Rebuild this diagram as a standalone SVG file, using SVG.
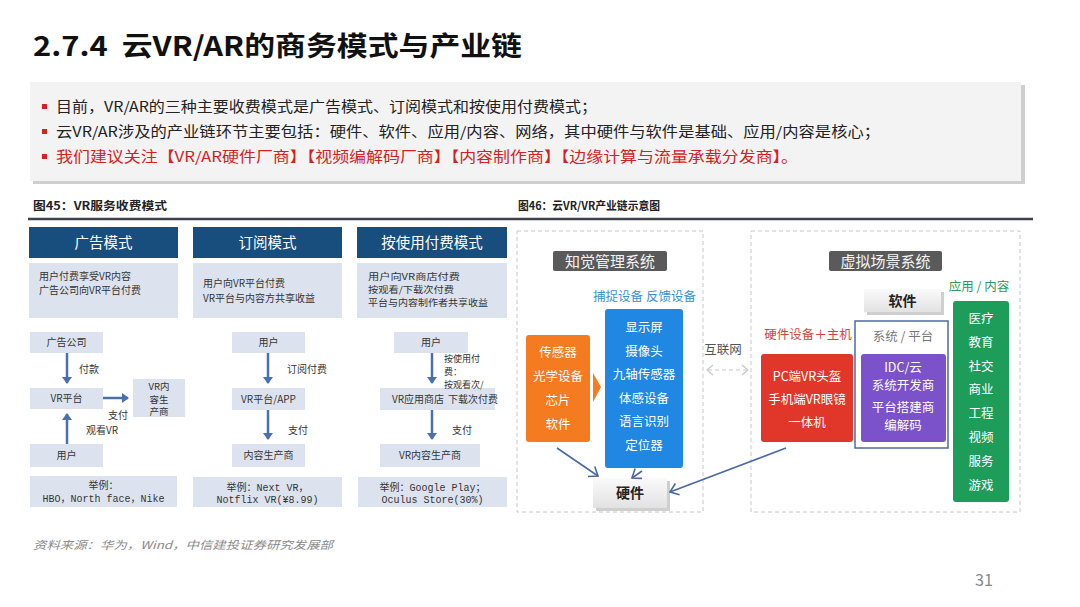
<svg xmlns="http://www.w3.org/2000/svg" width="1080" height="607" viewBox="0 0 1080 607">
<defs>
<style>
text{font-family:"Noto Sans CJK SC","Liberation Sans",sans-serif;}
.title{font-size:27px;font-weight:bold;fill:#111;}
.bul{font-size:14.5px;fill:#222;}
.bulr{font-size:14.5px;fill:#d42222;}
.cap{font-size:11.5px;fill:#222;font-weight:bold;}
.hdr{fill:#184e7e;}
.hdrt{font-size:14.5px;fill:#fff;text-anchor:middle;}
.lb{fill:#dde3ee;}
.lt{font-size:10px;fill:#333;}
.lt9{font-size:9px;fill:#333;}
.ltc{font-size:10px;fill:#333;text-anchor:middle;}
.sm{font-size:9.5px;fill:#333;text-anchor:middle;}
.ex{font-size:10px;fill:#333;text-anchor:middle;font-family:"Liberation Mono","Noto Sans CJK SC",monospace;}
.fl{stroke:#4a70b0;stroke-width:2.5;fill:none;}
.w{fill:#fff;font-size:12.5px;text-anchor:middle;}
.sys{fill:#5a5a5a;}
.syst{fill:#f4f4f4;font-size:15px;text-anchor:middle;}
.dash{fill:none;stroke:#c8c8c8;stroke-width:1;stroke-dasharray:4 3;}
.hw{font-size:14px;font-weight:bold;fill:#222;text-anchor:middle;font-family:"Noto Sans CJK SC",serif;}
.ln{stroke:#4a68a8;stroke-width:1.6;fill:none;}
</style>
<marker id="ah" markerWidth="10" markerHeight="10" refX="6" refY="5" orient="auto" markerUnits="userSpaceOnUse">
<path d="M0,0 L7,5 L0,10 Z" fill="#4a70b0"/>
</marker>
<marker id="va" markerWidth="14" markerHeight="14" refX="10" refY="7" orient="auto" markerUnits="userSpaceOnUse">
<path d="M2,1 L10,7 L2,13" fill="none" stroke="#4a68a8" stroke-width="1.6"/>
</marker>
<linearGradient id="gb" x1="0" y1="0" x2="0" y2="1">
<stop offset="0" stop-color="#fafafa"/><stop offset="1" stop-color="#e2e2e2"/>
</linearGradient>
</defs>
<rect width="1080" height="607" fill="#fff"/>

<text class="title" x="33" y="56" xml:space="preserve" textLength="489" lengthAdjust="spacingAndGlyphs">2.7.4  云VR/AR的商务模式与产业链</text>

<g id="bullets">
<rect x="33" y="85" width="992" height="99" fill="#cfcfcf"/>
<rect x="30" y="82" width="991" height="99" fill="#f3f3f3"/>
<rect x="42" y="104" width="5" height="5" fill="#d42222"/>
<rect x="42" y="129" width="5" height="5" fill="#d42222"/>
<rect x="42" y="154" width="5" height="5" fill="#d42222"/>
<text class="bul" x="56" y="112" textLength="541" lengthAdjust="spacingAndGlyphs">目前，VR/AR的三种主要收费模式是广告模式、订阅模式和按使用付费模式；</text>
<text class="bul" x="56" y="137" textLength="824" lengthAdjust="spacingAndGlyphs">云VR/AR涉及的产业链环节主要包括：硬件、软件、应用/内容、网络，其中硬件与软件是基础、应用/内容是核心；</text>
<text class="bulr" x="56" y="162" textLength="742" lengthAdjust="spacingAndGlyphs">我们建议关注【VR/AR硬件厂商】【视频编解码厂商】【内容制作商】【边缘计算与流量承载分发商】。</text>
</g>

<text class="cap" x="33" y="210" textLength="134" lengthAdjust="spacingAndGlyphs">图45：VR服务收费模式</text>
<text class="cap" x="518" y="210" textLength="142" lengthAdjust="spacingAndGlyphs">图46：云VR/VR产业链示意图</text>
<line x1="28" y1="219" x2="1033" y2="219" stroke="#3c414c" stroke-width="2.5"/>

<!-- Column 1 -->
<g id="col1-header"><rect class="hdr" x="29" y="227" width="149" height="31"/><text class="hdrt" x="103.5" y="248">广告模式</text></g>
<g id="col1-desc"><rect class="lb" x="29" y="263" width="149" height="55"/>
<text class="lt" x="39" y="280">用户付费享受VR内容</text><text class="lt" x="39" y="294">广告公司向VR平台付费</text></g>
<g id="c1-ad"><rect class="lb" x="30" y="332" width="73" height="21"/><text class="ltc" x="66.5" y="346">广告公司</text></g>
<g id="c1-plat"><rect class="lb" x="30" y="388" width="73" height="21"/><text class="ltc" x="66.5" y="402">VR平台</text></g>
<g id="c1-prod"><rect class="lb" x="133" y="379" width="52" height="38"/><text class="sm" x="159" y="390">VR内</text><text class="sm" x="159" y="402.5">容生</text><text class="sm" x="159" y="415">产商</text></g>
<g id="c1-user"><rect class="lb" x="30" y="444" width="73" height="23"/><text class="ltc" x="66.5" y="459">用户</text></g>
<g id="c1-ex"><rect class="lb" x="30" y="476" width="147" height="31"/><text class="ex" x="103.5" y="489">举例：</text><text class="ex" x="103.5" y="502">HBO，North face，Nike</text></g>

<!-- Column 2 -->
<g id="col2-header"><rect class="hdr" x="193" y="227" width="149" height="31"/><text class="hdrt" x="267.5" y="248">订阅模式</text></g>
<g id="col2-desc"><rect class="lb" x="193" y="263" width="149" height="55"/>
<text class="lt" x="203" y="287">用户向VR平台付费</text><text class="lt" x="203" y="302">VR平台与内容方共享收益</text></g>
<g id="c2-user"><rect class="lb" x="232" y="332" width="73" height="21"/><text class="ltc" x="268.5" y="346">用户</text></g>
<g id="c2-plat"><rect class="lb" x="232" y="388" width="73" height="22"/><text class="ltc" x="268.5" y="403">VR平台/APP</text></g>
<g id="c2-prod"><rect class="lb" x="232" y="444" width="73" height="23"/><text class="ltc" x="268.5" y="459">内容生产商</text></g>
<g id="c2-ex"><rect class="lb" x="193" y="477" width="149" height="30"/><text class="ex" x="267.5" y="491">举例：Next VR，</text><text class="ex" x="267.5" y="503">Notflix VR(¥8.99)</text></g>

<!-- Column 3 -->
<g id="col3-header"><rect class="hdr" x="357" y="227" width="150" height="31"/><text class="hdrt" x="432" y="248">按使用付费模式</text></g>
<g id="col3-desc"><rect class="lb" x="357" y="263" width="150" height="55"/>
<text class="lt9" x="368" y="280" textLength="92" lengthAdjust="spacingAndGlyphs">用户向VR商店付费</text><text class="lt9" x="368" y="293" textLength="86" lengthAdjust="spacingAndGlyphs">按观看/下载次付费</text><text class="lt9" x="368" y="306" textLength="120" lengthAdjust="spacingAndGlyphs">平台与内容制作者共享收益</text></g>
<g id="c3-user"><rect class="lb" x="394" y="332" width="74" height="21"/><text class="ltc" x="431" y="346">用户</text></g>
<g id="c3-store"><rect class="lb" x="380" y="388" width="115" height="22"/><text class="lt" x="392" y="403">VR应用商店</text></g>
<g id="c3-prod"><rect class="lb" x="380" y="444" width="100" height="23"/><text class="ltc" x="430" y="459">VR内容生产商</text></g>
<g id="c3-ex"><rect class="lb" x="358" y="477" width="149" height="30"/><text class="ex" x="432.5" y="491">举例：Google Play；</text><text class="ex" x="432.5" y="503">Oculus Store(30%)</text></g>

<g id="flow-connectors">
<line class="fl" x1="67" y1="353" x2="67" y2="383" marker-end="url(#ah)"/>
<line class="fl" x1="103" y1="398" x2="128" y2="398" marker-end="url(#ah)"/>
<line class="fl" x1="67" y1="444" x2="67" y2="414" marker-end="url(#ah)"/>
<line class="fl" x1="268" y1="353" x2="268" y2="383" marker-end="url(#ah)"/>
<line class="fl" x1="268" y1="410" x2="268" y2="439" marker-end="url(#ah)"/>
<line class="fl" x1="432" y1="353" x2="432" y2="383" marker-end="url(#ah)"/>
<line class="fl" x1="432" y1="410" x2="432" y2="439" marker-end="url(#ah)"/>
<text class="lt" x="79" y="373">付款</text>
<text class="lt" x="108" y="419">支付</text>
<text class="lt" x="86" y="434">观看VR</text>
<text class="lt" x="287" y="373">订阅付费</text>
<text class="lt" x="288" y="434">支付</text>
<text class="lt9" x="444" y="362">按使用付</text>
<text class="lt9" x="444" y="375">费：</text>
<text class="lt9" x="444" y="388">按观看次/</text>
<text class="lt" x="448" y="403">下载次付费</text>
<text class="lt" x="452" y="434">支付</text>
</g>

<!-- Right diagram -->
<rect class="dash" x="517" y="231" width="186" height="281"/>
<rect class="dash" x="751" y="231" width="269" height="281"/>

<g id="perception-label"><rect class="sys" x="553" y="251" width="114" height="20" rx="2"/><text class="syst" x="610" y="266.5">知觉管理系统</text></g>
<text x="644.5" y="301" font-size="12.5" fill="#3a8fd4" text-anchor="middle">捕捉设备 反馈设备</text>

<g id="orange-box"><rect x="526" y="335" width="64" height="107" rx="3" fill="#f47b20"/>
<text class="w" x="558" y="357">传感器</text><text class="w" x="558" y="381">光学设备</text><text class="w" x="558" y="405">芯片</text><text class="w" x="558" y="429">软件</text></g>
<path d="M593,373 L601,387 L593,402 Z" fill="#f47b20"/>

<g id="blue-box"><rect x="605" y="309" width="78" height="159" rx="3" fill="#2088e2"/>
<text class="w" x="644" y="332">显示屏</text><text class="w" x="644" y="356">摄像头</text><text class="w" x="644" y="379">九轴传感器</text><text class="w" x="644" y="403">体感设备</text><text class="w" x="644" y="426">语言识别</text><text class="w" x="644" y="450">定位器</text></g>

<g id="hardware"><rect x="596" y="481" width="74" height="30" fill="#cfcfcf"/><rect x="593" y="478" width="74" height="30" fill="url(#gb)"/><text class="hw" x="630" y="498">硬件</text></g>

<text x="723" y="354" font-size="12.5" fill="#555" text-anchor="middle">互联网</text>
<g id="internet-link"><line x1="708" y1="370" x2="747" y2="370" stroke="#c8c8c8" stroke-width="1.2" stroke-dasharray="4 3"/>
<path d="M713,365 L707,370 L713,375" fill="none" stroke="#c8c8c8" stroke-width="1.2"/>
<path d="M742,365 L748,370 L742,375" fill="none" stroke="#c8c8c8" stroke-width="1.2"/></g>

<g id="virtual-label"><rect class="sys" x="829" y="251" width="113" height="20" rx="2"/><text class="syst" x="885.5" y="266.5">虚拟场景系统</text></g>
<text x="979" y="291" font-size="12.5" fill="#2a9a5c" text-anchor="middle">应用 / 内容</text>

<g id="software"><rect x="867" y="292" width="77" height="23" fill="#cfcfcf"/><rect x="864" y="289" width="77" height="23" fill="url(#gb)"/><text class="hw" x="902.5" y="306">软件</text></g>

<text x="808" y="339" font-size="12.5" fill="#d4463a" text-anchor="middle">硬件设备＋主机</text>
<g id="red-box"><rect x="761" y="354" width="92" height="88" rx="3" fill="#e0372a"/>
<text class="w" x="807" y="381">PC端VR头盔</text><text class="w" x="807" y="404">手机端VR眼镜</text><text class="w" x="807" y="427">一体机</text></g>

<g id="platform"><rect x="855" y="321" width="93" height="127" fill="#fff" stroke="#4d6aa3" stroke-width="1.5"/>
<text x="903" y="341" font-size="12.5" fill="#777" text-anchor="middle">系统 / 平台</text>
<rect x="861" y="354" width="85" height="88" rx="3" fill="#7b52c9"/>
<text class="w" x="903" y="372" font-size="12" font-family="Liberation Mono,Noto Sans CJK SC,monospace">IDC/云</text><text class="w" x="903" y="390" font-size="12">系统开发商</text><text class="w" x="903" y="412" font-size="12">平台搭建商</text><text class="w" x="903" y="430" font-size="12">编解码</text></g>

<g id="green-box"><rect x="953" y="301" width="56" height="201" rx="3" fill="#1e9c5a"/>
<text class="w" x="981" y="323">医疗</text><text class="w" x="981" y="347">教育</text><text class="w" x="981" y="371">社交</text><text class="w" x="981" y="394">商业</text><text class="w" x="981" y="418">工程</text><text class="w" x="981" y="442">视频</text><text class="w" x="981" y="466">服务</text><text class="w" x="981" y="490">游戏</text></g>

<g id="chain-connectors">
<line class="ln" x1="557" y1="448" x2="598" y2="476" marker-end="url(#va)"/>
<line class="ln" x1="642" y1="471" x2="632" y2="478" marker-end="url(#va)"/>
<line class="ln" x1="786" y1="448" x2="670" y2="492" marker-end="url(#va)"/>
</g>

<text x="33" y="549" font-size="11" font-style="italic" fill="#8a8a8a" textLength="300" lengthAdjust="spacingAndGlyphs">资料来源：华为，Wind，中信建投证券研究发展部</text>
<text x="975" y="586" font-size="16" fill="#888" textLength="18" lengthAdjust="spacingAndGlyphs">31</text>
</svg>
